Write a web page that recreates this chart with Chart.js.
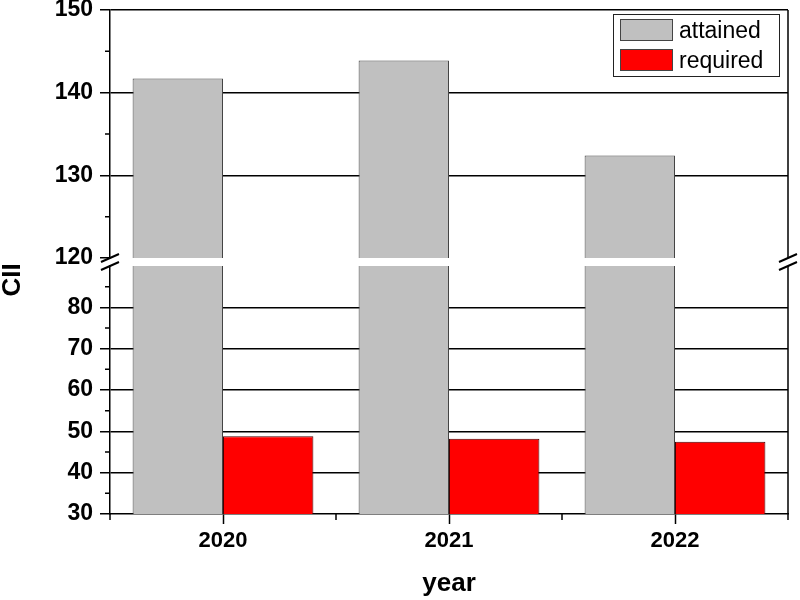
<!DOCTYPE html>
<html>
<head>
<meta charset="utf-8">
<script src="https://cdn.jsdelivr.net/npm/chart.js@4/dist/chart.umd.min.js"></script>
<style>
  html, body { margin: 0; padding: 0; background: #ffffff; }
  #wrap { width: 800px; height: 600px; }
</style>
</head>
<body>
<div id="wrap"><canvas id="c" width="800" height="600"></canvas></div>
<script>
// ---- data ----
const categories = ['2020', '2021', '2022'];
const attained = [141.7, 143.9, 132.4];
const required = [48.8, 48.2, 47.5];
const seriesNames = ['attained', 'required'];
const upperTicks = [120, 125, 130, 135, 140, 145, 150];
const lowerTicks = [30, 35, 40, 45, 50, 55, 60, 65, 70, 75, 80, 85, 90];
const yTitle = 'CII';
const xTitle = 'year';

const FONT = "'Liberation Sans', Arial, sans-serif";
const GRAY = '#C0C0C0';
const RED = '#FF0000';

function isMajor(v) { return v % 10 === 0; }

function yScaleBase(ticksArr, weight, labelHide, gridHide) {
  return {
    type: 'linear',
    position: 'left',
    stack: 'ystack',
    stackWeight: weight,
    stacked: false,
    min: ticksArr[0],
    max: ticksArr[ticksArr.length - 1],
    afterBuildTicks: (scale) => { scale.ticks = ticksArr.map(v => ({ value: v })); },
    afterFit: (scale) => { scale.width = 110; scale.paddingTop = 0; scale.paddingBottom = 0; },
    border: { display: true, color: '#000', width: 1.5 },
    grid: {
      drawOnChartArea: true,
      drawTicks: true,
      tickLength: 10,
      lineWidth: 1.5,
      tickWidth: 1.5,
      color: (ctx) => {
        const v = ctx.tick && ctx.tick.value;
        return (isMajor(v) && !gridHide.includes(v)) ? '#000' : 'rgba(0,0,0,0)';
      },
      tickColor: (ctx) => {
        const v = ctx.tick && ctx.tick.value;
        return (isMajor(v) && !labelHide.includes(v)) ? '#000' : 'rgba(0,0,0,0)';
      }
    },
    ticks: {
      autoSkip: false,
      padding: 7,
      color: '#000',
      font: { family: FONT, size: 23, weight: 'bold' },
      callback: (v) => (isMajor(v) && !labelHide.includes(v)) ? String(v) : ''
    }
  };
}

const yLowOpts = yScaleBase(lowerTicks, 248, [90], [30, 90]);
const yHighOpts = yScaleBase(upperTicks, 248, [], [120]);

const breakPlugin = {
  id: 'breakPlugin',
  beforeDatasetDraw(chart, args) {
    const ds = chart.data.datasets[args.index];
    const sc = chart.scales[ds.yAxisID];
    const ca = chart.chartArea;
    const ctx = chart.ctx;
    ctx.save();
    ctx.beginPath();
    ctx.rect(ca.left, sc.top, ca.right - ca.left, sc.bottom - sc.top);
    ctx.clip();
  },
  afterDatasetDraw(chart) {
    chart.ctx.restore();
  },
  afterDraw(chart) {
    const ctx = chart.ctx;
    const ca = chart.chartArea;
    const yH = chart.scales.yHigh, yL = chart.scales.yLow, yG = chart.scales.yGap, x = chart.scales.x;
    ctx.save();
    ctx.strokeStyle = '#000';
    ctx.lineWidth = 1.5;
    // right frame
    ctx.beginPath();
    ctx.moveTo(ca.right, yH.top); ctx.lineTo(ca.right, yH.bottom);
    ctx.moveTo(ca.right, yL.top); ctx.lineTo(ca.right, yL.bottom);
    ctx.stroke();
    // y minor ticks
    ctx.beginPath();
    [[yH, upperTicks], [yL, lowerTicks]].forEach(([sc, arr]) => {
      arr.forEach(v => {
        if (!isMajor(v)) {
          const py = sc.getPixelForValue(v);
          ctx.moveTo(ca.left - 5, py); ctx.lineTo(ca.left, py);
        }
      });
    });
    // x minor ticks at category boundaries
    for (let i = 0; i <= categories.length; i++) {
      const px = x.getPixelForValue(i - 0.5);
      ctx.moveTo(px, ca.bottom); ctx.lineTo(px, ca.bottom + 6);
    }
    ctx.stroke();
    // break marks
    ctx.lineWidth = 2;
    ctx.beginPath();
    [ca.left, ca.right].forEach(bx => {
      [yH.bottom, yL.top].forEach(by => {
        ctx.moveTo(bx - 9, by + 4); ctx.lineTo(bx + 9, by - 4);
      });
    });
    ctx.stroke();
    // y title
    ctx.fillStyle = '#000';
    ctx.font = 'bold 26px ' + FONT;
    ctx.textAlign = 'center';
    ctx.textBaseline = 'middle';
    ctx.translate(ca.left - 97, (yG.top + yG.bottom) / 2 + 18);
    ctx.rotate(-Math.PI / 2);
    ctx.fillText(yTitle, 0, 0);
    ctx.restore();

    // legend box
    ctx.save();
    const lx = ca.right - 175, ly = ca.top + 4, lw = 166, lh = 62;
    ctx.fillStyle = '#fff';
    ctx.fillRect(lx, ly, lw, lh);
    ctx.strokeStyle = '#222';
    ctx.lineWidth = 1;
    ctx.strokeRect(lx + 0.5, ly + 0.5, lw, lh);
    const colors = [GRAY, RED];
    ctx.font = '23px ' + FONT;
    ctx.textAlign = 'left';
    ctx.textBaseline = 'alphabetic';
    seriesNames.forEach((name, i) => {
      const sy = ly + 5 + i * 30;
      ctx.fillStyle = colors[i];
      ctx.fillRect(lx + 7, sy, 53, 22);
      ctx.strokeStyle = '#444';
      ctx.strokeRect(lx + 7.5, sy + 0.5, 52, 21);
      ctx.fillStyle = '#000';
      ctx.fillText(name, lx + 66, sy + 19);
    });
    ctx.restore();
  }
};

new Chart(document.getElementById('c'), {
  type: 'bar',
  data: {
    labels: categories,
    datasets: [
      { label: seriesNames[0], data: attained, yAxisID: 'yHigh', stack: 'a',
        backgroundColor: GRAY, borderColor: '#444', borderWidth: 1 },
      { label: seriesNames[0] + ' (lower)', data: attained, yAxisID: 'yLow', stack: 'a',
        backgroundColor: GRAY, borderColor: '#444', borderWidth: 1 },
      { label: seriesNames[1], data: required, yAxisID: 'yLow', stack: 'b',
        backgroundColor: RED, borderColor: '#400', borderWidth: 1 }
    ]
  },
  options: {
    responsive: false,
    animation: false,
    devicePixelRatio: 1,
    layout: { padding: { top: 10, right: 12, left: 0, bottom: 0 } },
    datasets: { bar: { categoryPercentage: 0.8, barPercentage: 1.0 } },
    plugins: { legend: { display: false }, tooltip: { enabled: false } },
    scales: {
      x: {
        type: 'category',
        offset: true,
        afterFit: (scale) => { scale.height = 86; scale.paddingLeft = 0; scale.paddingRight = 0; },
        border: { display: true, color: '#000', width: 1.5 },
        grid: { offset: false, drawOnChartArea: false, drawTicks: true, tickLength: 10, tickColor: '#000', tickWidth: 1.5 },
        ticks: { padding: 4, color: '#000', font: { family: FONT, size: 22, weight: 'bold' }, maxRotation: 0 },
        title: { display: true, text: xTitle, color: '#000', font: { family: FONT, size: 26, weight: 'bold' }, padding: { top: 0, bottom: 1 } }
      },
      yLow: yLowOpts,
      yGap: {
        type: 'linear', position: 'left', stack: 'ystack', stackWeight: 8, min: 0, max: 1,
        afterFit: (scale) => { scale.width = 110; scale.paddingTop = 0; scale.paddingBottom = 0; },
        border: { display: false }, grid: { display: false }, ticks: { display: false }
      },
      yHigh: yHighOpts
    }
  },
  plugins: [breakPlugin]
});
</script>
</body>
</html>
